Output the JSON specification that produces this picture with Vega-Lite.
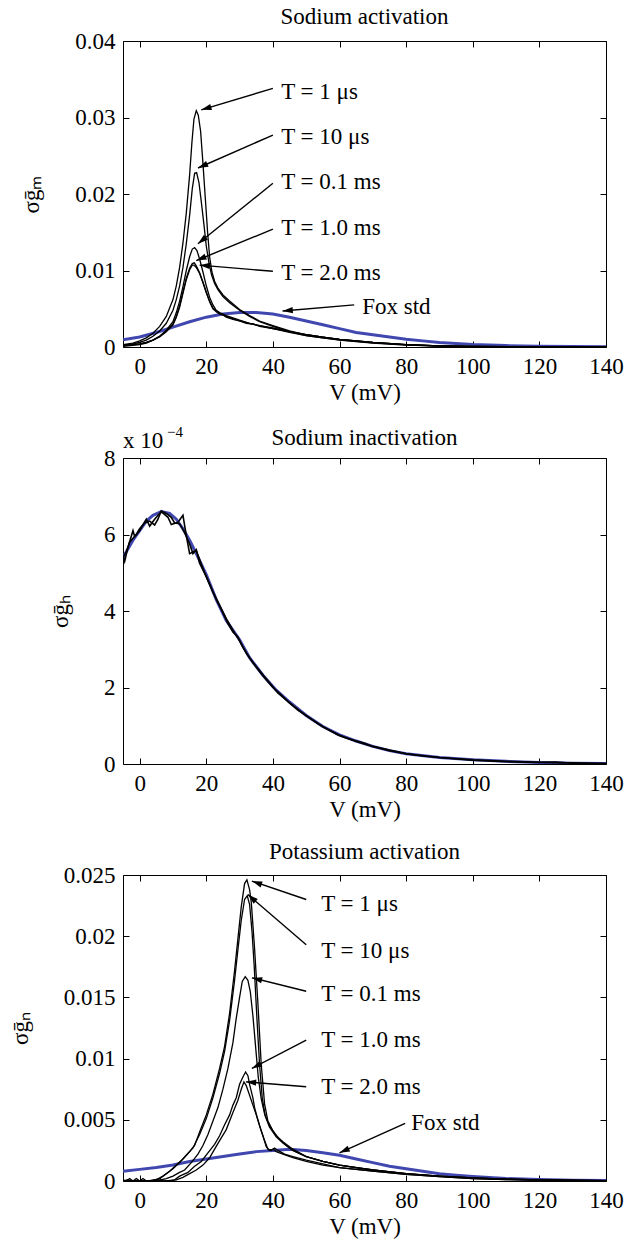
{
"$schema": "https://vega.github.io/schema/vega-lite/v6.json",
"background": "white",
"padding": {"left": 8, "top": 5, "right": 5, "bottom": 2},
"spacing": 111,
"bounds": "flush",
"config": {
 "font": "Liberation Serif",
 "view": {"stroke": "black", "strokeWidth": 1},
 "axis": {"labelFont": "Liberation Serif", "titleFont": "Liberation Serif", "labelFontSize": 23, "titleFontSize": 23, "titleFontWeight": "normal", "labelColor": "#000", "titleColor": "#000", "tickColor": "#000", "domain": false, "grid": false, "tickSize": -6, "tickWidth": 1, "labelFlush": false, "labelOverlap": false},
 "axisX": {"labelPadding": 14, "titlePadding": 3},
 "axisY": {"labelPadding": 14, "titlePadding": 31},
 "title": {"font": "Liberation Serif", "fontSize": 23, "fontWeight": "normal", "color": "#000", "offset": 1, "frame": "group", "baseline": "alphabetic"},
 "text": {"font": "Liberation Serif", "fontSize": 23, "color": "#000"}
},
"datasets": {
 "na": [
  {"curve":"1us","V":-5,"sigma":0.0003},{"curve":"1us","V":-2,"sigma":0.0005},{"curve":"1us","V":0,"sigma":0.0008},{"curve":"1us","V":2,"sigma":0.0012},{"curve":"1us","V":4,"sigma":0.0018},{"curve":"1us","V":6,"sigma":0.0027},{"curve":"1us","V":8,"sigma":0.004},{"curve":"1us","V":10,"sigma":0.0062},{"curve":"1us","V":11,"sigma":0.008},{"curve":"1us","V":12,"sigma":0.0104},{"curve":"1us","V":13,"sigma":0.0136},{"curve":"1us","V":14,"sigma":0.0175},{"curve":"1us","V":15,"sigma":0.0225},{"curve":"1us","V":15.7,"sigma":0.0268},{"curve":"1us","V":16.3,"sigma":0.0298},{"curve":"1us","V":17,"sigma":0.0309},{"curve":"1us","V":17.6,"sigma":0.0303},{"curve":"1us","V":18.3,"sigma":0.0282},{"curve":"1us","V":19,"sigma":0.024},{"curve":"1us","V":19.7,"sigma":0.0195},{"curve":"1us","V":20.4,"sigma":0.015},{"curve":"1us","V":21,"sigma":0.0118},{"curve":"1us","V":21.7,"sigma":0.0098},{"curve":"1us","V":22.5,"sigma":0.0086},{"curve":"1us","V":23.5,"sigma":0.0077},{"curve":"1us","V":25,"sigma":0.0068},{"curve":"1us","V":27,"sigma":0.006},{"curve":"1us","V":30,"sigma":0.0049},{"curve":"1us","V":33,"sigma":0.0041},{"curve":"1us","V":36,"sigma":0.0034},{"curve":"1us","V":40,"sigma":0.0028},{"curve":"1us","V":45,"sigma":0.0021},{"curve":"1us","V":50,"sigma":0.0016},{"curve":"1us","V":55,"sigma":0.0013},{"curve":"1us","V":60,"sigma":0.001},{"curve":"1us","V":70,"sigma":0.0006},{"curve":"1us","V":80,"sigma":0.0003},{"curve":"1us","V":90,"sigma":0.00014},{"curve":"1us","V":100,"sigma":0.00007},{"curve":"1us","V":120,"sigma":0.00002},{"curve":"1us","V":140,"sigma":0.00001},
  {"curve":"10us","V":-5,"sigma":0.0002},{"curve":"10us","V":-2,"sigma":0.0004},{"curve":"10us","V":0,"sigma":0.0006},{"curve":"10us","V":2,"sigma":0.0009},{"curve":"10us","V":4,"sigma":0.0014},{"curve":"10us","V":6,"sigma":0.0021},{"curve":"10us","V":8,"sigma":0.0031},{"curve":"10us","V":10,"sigma":0.0048},{"curve":"10us","V":11,"sigma":0.0062},{"curve":"10us","V":12,"sigma":0.008},{"curve":"10us","V":13,"sigma":0.0104},{"curve":"10us","V":14,"sigma":0.0135},{"curve":"10us","V":15,"sigma":0.0172},{"curve":"10us","V":15.8,"sigma":0.0207},{"curve":"10us","V":16.5,"sigma":0.0227},{"curve":"10us","V":17.1,"sigma":0.0228},{"curve":"10us","V":17.8,"sigma":0.0215},{"curve":"10us","V":18.5,"sigma":0.019},{"curve":"10us","V":19.3,"sigma":0.016},{"curve":"10us","V":20,"sigma":0.0132},{"curve":"10us","V":20.8,"sigma":0.011},{"curve":"10us","V":21.6,"sigma":0.0094},{"curve":"10us","V":22.5,"sigma":0.0083},{"curve":"10us","V":23.5,"sigma":0.0075},{"curve":"10us","V":25,"sigma":0.0066},{"curve":"10us","V":27,"sigma":0.0058},{"curve":"10us","V":30,"sigma":0.0048},{"curve":"10us","V":33,"sigma":0.004},{"curve":"10us","V":36,"sigma":0.0033},{"curve":"10us","V":40,"sigma":0.0027},{"curve":"10us","V":45,"sigma":0.002},{"curve":"10us","V":50,"sigma":0.0015},{"curve":"10us","V":55,"sigma":0.0012},{"curve":"10us","V":60,"sigma":0.00095},{"curve":"10us","V":70,"sigma":0.00055},{"curve":"10us","V":80,"sigma":0.00028},{"curve":"10us","V":90,"sigma":0.00013},{"curve":"10us","V":100,"sigma":0.00006},{"curve":"10us","V":120,"sigma":0.00002},{"curve":"10us","V":140,"sigma":0.00001},
  {"curve":"0.1ms","V":-5,"sigma":0.0001},{"curve":"0.1ms","V":-2,"sigma":0.0002},{"curve":"0.1ms","V":0,"sigma":0.0003},{"curve":"0.1ms","V":2,"sigma":0.0005},{"curve":"0.1ms","V":4,"sigma":0.0009},{"curve":"0.1ms","V":6,"sigma":0.0014},{"curve":"0.1ms","V":8,"sigma":0.0022},{"curve":"0.1ms","V":10,"sigma":0.0033},{"curve":"0.1ms","V":11,"sigma":0.0045},{"curve":"0.1ms","V":12,"sigma":0.006},{"curve":"0.1ms","V":13,"sigma":0.0079},{"curve":"0.1ms","V":14,"sigma":0.01},{"curve":"0.1ms","V":15,"sigma":0.0118},{"curve":"0.1ms","V":15.8,"sigma":0.0128},{"curve":"0.1ms","V":16.5,"sigma":0.013},{"curve":"0.1ms","V":17.2,"sigma":0.0126},{"curve":"0.1ms","V":18,"sigma":0.0115},{"curve":"0.1ms","V":19,"sigma":0.0098},{"curve":"0.1ms","V":20,"sigma":0.008},{"curve":"0.1ms","V":21,"sigma":0.0065},{"curve":"0.1ms","V":22,"sigma":0.0055},{"curve":"0.1ms","V":23,"sigma":0.0048},{"curve":"0.1ms","V":24,"sigma":0.0045},{"curve":"0.1ms","V":26,"sigma":0.0041},{"curve":"0.1ms","V":28,"sigma":0.0038},{"curve":"0.1ms","V":30,"sigma":0.0035},{"curve":"0.1ms","V":33,"sigma":0.0031},{"curve":"0.1ms","V":36,"sigma":0.0028},{"curve":"0.1ms","V":40,"sigma":0.0024},{"curve":"0.1ms","V":45,"sigma":0.0019},{"curve":"0.1ms","V":50,"sigma":0.0015},{"curve":"0.1ms","V":55,"sigma":0.0012},{"curve":"0.1ms","V":60,"sigma":0.0009},{"curve":"0.1ms","V":70,"sigma":0.0005},{"curve":"0.1ms","V":80,"sigma":0.00026},{"curve":"0.1ms","V":90,"sigma":0.00012},{"curve":"0.1ms","V":100,"sigma":0.00006},{"curve":"0.1ms","V":120,"sigma":0.00002},{"curve":"0.1ms","V":140,"sigma":0.00001},
  {"curve":"1ms","V":-5,"sigma":0.0002},{"curve":"1ms","V":-2,"sigma":0.0003},{"curve":"1ms","V":0,"sigma":0.0004},{"curve":"1ms","V":2,"sigma":0.0006},{"curve":"1ms","V":4,"sigma":0.0009},{"curve":"1ms","V":6,"sigma":0.0014},{"curve":"1ms","V":8,"sigma":0.0021},{"curve":"1ms","V":10,"sigma":0.003},{"curve":"1ms","V":11,"sigma":0.004},{"curve":"1ms","V":12,"sigma":0.0054},{"curve":"1ms","V":13,"sigma":0.0072},{"curve":"1ms","V":14,"sigma":0.009},{"curve":"1ms","V":15,"sigma":0.0103},{"curve":"1ms","V":15.8,"sigma":0.0109},{"curve":"1ms","V":16.4,"sigma":0.011},{"curve":"1ms","V":17,"sigma":0.0106},{"curve":"1ms","V":18,"sigma":0.0097},{"curve":"1ms","V":19,"sigma":0.0085},{"curve":"1ms","V":20,"sigma":0.0072},{"curve":"1ms","V":21,"sigma":0.006},{"curve":"1ms","V":22,"sigma":0.0051},{"curve":"1ms","V":23,"sigma":0.0047},{"curve":"1ms","V":24,"sigma":0.0044},{"curve":"1ms","V":26,"sigma":0.004},{"curve":"1ms","V":28,"sigma":0.0037},{"curve":"1ms","V":30,"sigma":0.0034},{"curve":"1ms","V":33,"sigma":0.0031},{"curve":"1ms","V":36,"sigma":0.0028},{"curve":"1ms","V":40,"sigma":0.0025},{"curve":"1ms","V":45,"sigma":0.002},{"curve":"1ms","V":50,"sigma":0.0016},{"curve":"1ms","V":55,"sigma":0.0013},{"curve":"1ms","V":60,"sigma":0.001},{"curve":"1ms","V":70,"sigma":0.0006},{"curve":"1ms","V":80,"sigma":0.0003},{"curve":"1ms","V":90,"sigma":0.00014},{"curve":"1ms","V":100,"sigma":0.00007},{"curve":"1ms","V":120,"sigma":0.00002},{"curve":"1ms","V":140,"sigma":0.00001},
  {"curve":"2ms","V":-5,"sigma":0.0002},{"curve":"2ms","V":-2,"sigma":0.0003},{"curve":"2ms","V":0,"sigma":0.0004},{"curve":"2ms","V":2,"sigma":0.0006},{"curve":"2ms","V":4,"sigma":0.0009},{"curve":"2ms","V":6,"sigma":0.0013},{"curve":"2ms","V":8,"sigma":0.002},{"curve":"2ms","V":10,"sigma":0.0029},{"curve":"2ms","V":11,"sigma":0.0039},{"curve":"2ms","V":12,"sigma":0.0052},{"curve":"2ms","V":13,"sigma":0.007},{"curve":"2ms","V":14,"sigma":0.0088},{"curve":"2ms","V":15,"sigma":0.0101},{"curve":"2ms","V":15.8,"sigma":0.0107},{"curve":"2ms","V":16.3,"sigma":0.0107},{"curve":"2ms","V":17,"sigma":0.0104},{"curve":"2ms","V":18,"sigma":0.0096},{"curve":"2ms","V":19,"sigma":0.0084},{"curve":"2ms","V":20,"sigma":0.0071},{"curve":"2ms","V":21,"sigma":0.0059},{"curve":"2ms","V":22,"sigma":0.005},{"curve":"2ms","V":23,"sigma":0.0046},{"curve":"2ms","V":24,"sigma":0.0043},{"curve":"2ms","V":25,"sigma":0.0042},{"curve":"2ms","V":26,"sigma":0.0039},{"curve":"2ms","V":28,"sigma":0.0036},{"curve":"2ms","V":30,"sigma":0.0034},{"curve":"2ms","V":32,"sigma":0.0031},{"curve":"2ms","V":34,"sigma":0.003},{"curve":"2ms","V":36,"sigma":0.0027},{"curve":"2ms","V":40,"sigma":0.0024},{"curve":"2ms","V":45,"sigma":0.002},{"curve":"2ms","V":50,"sigma":0.0016},{"curve":"2ms","V":55,"sigma":0.0013},{"curve":"2ms","V":60,"sigma":0.001},{"curve":"2ms","V":70,"sigma":0.0006},{"curve":"2ms","V":80,"sigma":0.0003},{"curve":"2ms","V":90,"sigma":0.00014},{"curve":"2ms","V":100,"sigma":0.00007},{"curve":"2ms","V":120,"sigma":0.00002},{"curve":"2ms","V":140,"sigma":0.00001},
  {"curve":"Fox std","V":-5,"sigma":0.00096},{"curve":"Fox std","V":0,"sigma":0.0013},{"curve":"Fox std","V":5,"sigma":0.0019},{"curve":"Fox std","V":10,"sigma":0.0026},{"curve":"Fox std","V":15,"sigma":0.0033},{"curve":"Fox std","V":20,"sigma":0.0039},{"curve":"Fox std","V":25,"sigma":0.0043},{"curve":"Fox std","V":30,"sigma":0.0045},{"curve":"Fox std","V":35,"sigma":0.0045},{"curve":"Fox std","V":40,"sigma":0.0043},{"curve":"Fox std","V":45,"sigma":0.0039},{"curve":"Fox std","V":50,"sigma":0.0034},{"curve":"Fox std","V":55,"sigma":0.0029},{"curve":"Fox std","V":60,"sigma":0.0024},{"curve":"Fox std","V":65,"sigma":0.0019},{"curve":"Fox std","V":70,"sigma":0.0016},{"curve":"Fox std","V":75,"sigma":0.0013},{"curve":"Fox std","V":80,"sigma":0.001},{"curve":"Fox std","V":85,"sigma":0.0008},{"curve":"Fox std","V":90,"sigma":0.0006},{"curve":"Fox std","V":100,"sigma":0.00033},{"curve":"Fox std","V":110,"sigma":0.00018},{"curve":"Fox std","V":120,"sigma":0.0001},{"curve":"Fox std","V":130,"sigma":0.00006},{"curve":"Fox std","V":140,"sigma":0.00004}
 ],
 "na_notes": [
  {"label":"T = 1 μs","tailV":40,"tailS":0.0338,"tipV":18.5,"tipS":0.031,"textV":42.5,"textS":0.0333},
  {"label":"T = 10 μs","tailV":40,"tailS":0.0277,"tipV":17.5,"tipS":0.0234,"textV":42.5,"textS":0.0275},
  {"label":"T = 0.1 ms","tailV":40,"tailS":0.0214,"tipV":17.5,"tipS":0.0135,"textV":42.5,"textS":0.0216},
  {"label":"T = 1.0 ms","tailV":40,"tailS":0.0154,"tipV":17,"tipS":0.0113,"textV":42.5,"textS":0.0155},
  {"label":"T = 2.0 ms","tailV":40,"tailS":0.0099,"tipV":18,"tipS":0.0107,"textV":42.5,"textS":0.0097},
  {"label":"Fox std","tailV":64.4,"tailS":0.0055,"tipV":42.9,"tipS":0.0047,"textV":66.8,"textS":0.0052}
 ],
 "nh": [
  {"curve":"Fox std","V":-5,"sigma":5.4},{"curve":"Fox std","V":-2,"sigma":5.85},{"curve":"Fox std","V":0,"sigma":6.1},{"curve":"Fox std","V":2,"sigma":6.35},{"curve":"Fox std","V":4,"sigma":6.5},{"curve":"Fox std","V":6.5,"sigma":6.6},{"curve":"Fox std","V":9,"sigma":6.55},{"curve":"Fox std","V":11,"sigma":6.4},{"curve":"Fox std","V":13,"sigma":6.15},{"curve":"Fox std","V":15,"sigma":5.85},{"curve":"Fox std","V":17,"sigma":5.5},{"curve":"Fox std","V":20,"sigma":4.95},{"curve":"Fox std","V":23,"sigma":4.3},{"curve":"Fox std","V":26,"sigma":3.75},{"curve":"Fox std","V":30,"sigma":3.25},{"curve":"Fox std","V":33,"sigma":2.78},{"curve":"Fox std","V":37,"sigma":2.32},{"curve":"Fox std","V":41,"sigma":1.93},{"curve":"Fox std","V":45,"sigma":1.62},{"curve":"Fox std","V":50,"sigma":1.27},{"curve":"Fox std","V":55,"sigma":0.98},{"curve":"Fox std","V":60,"sigma":0.76},{"curve":"Fox std","V":65,"sigma":0.6},{"curve":"Fox std","V":70,"sigma":0.46},{"curve":"Fox std","V":75,"sigma":0.35},{"curve":"Fox std","V":80,"sigma":0.27},{"curve":"Fox std","V":90,"sigma":0.17},{"curve":"Fox std","V":100,"sigma":0.11},{"curve":"Fox std","V":110,"sigma":0.07},{"curve":"Fox std","V":120,"sigma":0.04},{"curve":"Fox std","V":130,"sigma":0.02},{"curve":"Fox std","V":140,"sigma":0.01},
  {"curve":"1us","V":-5,"sigma":5.45},{"curve":"1us","V":-4.5,"sigma":5.3},{"curve":"1us","V":-3.5,"sigma":5.67},{"curve":"1us","V":-2,"sigma":6.1},{"curve":"1us","V":-1.5,"sigma":5.95},{"curve":"1us","V":0,"sigma":6.1},{"curve":"1us","V":2,"sigma":6.4},{"curve":"1us","V":3,"sigma":6.22},{"curve":"1us","V":4.5,"sigma":6.4},{"curve":"1us","V":6.5,"sigma":6.6},{"curve":"1us","V":8.5,"sigma":6.45},{"curve":"1us","V":9.5,"sigma":6.26},{"curve":"1us","V":11.5,"sigma":6.32},{"curve":"1us","V":13,"sigma":6.5},{"curve":"1us","V":14,"sigma":5.97},{"curve":"1us","V":15,"sigma":5.5},{"curve":"1us","V":17,"sigma":5.58},{"curve":"1us","V":19.5,"sigma":5.0},{"curve":"1us","V":21,"sigma":4.7},{"curve":"1us","V":23,"sigma":4.3},{"curve":"1us","V":25,"sigma":3.95},{"curve":"1us","V":26.5,"sigma":3.67},{"curve":"1us","V":28,"sigma":3.45},{"curve":"1us","V":29.5,"sigma":3.32},{"curve":"1us","V":31,"sigma":3.05},{"curve":"1us","V":33.5,"sigma":2.71},{"curve":"1us","V":35,"sigma":2.55},{"curve":"1us","V":37.5,"sigma":2.28},{"curve":"1us","V":40,"sigma":2.02},{"curve":"1us","V":41.5,"sigma":1.86},{"curve":"1us","V":43,"sigma":1.75},{"curve":"1us","V":47.5,"sigma":1.41},{"curve":"1us","V":50,"sigma":1.27},{"curve":"1us","V":53.5,"sigma":1.06},{"curve":"1us","V":55,"sigma":0.98},{"curve":"1us","V":59.5,"sigma":0.76},{"curve":"1us","V":62,"sigma":0.68},{"curve":"1us","V":67.5,"sigma":0.54},{"curve":"1us","V":70,"sigma":0.46},{"curve":"1us","V":75,"sigma":0.35},{"curve":"1us","V":80,"sigma":0.27},{"curve":"1us","V":85,"sigma":0.21},{"curve":"1us","V":90,"sigma":0.17},{"curve":"1us","V":100,"sigma":0.11},{"curve":"1us","V":110,"sigma":0.07},{"curve":"1us","V":120,"sigma":0.045},{"curve":"1us","V":125,"sigma":0.05},{"curve":"1us","V":130,"sigma":0.02},{"curve":"1us","V":135,"sigma":0.015},{"curve":"1us","V":140,"sigma":0.01},
  {"curve":"2ms","V":-5,"sigma":5.4},{"curve":"2ms","V":-4,"sigma":5.55},{"curve":"2ms","V":-3,"sigma":5.8},{"curve":"2ms","V":-2,"sigma":5.9},{"curve":"2ms","V":-1,"sigma":6.0},{"curve":"2ms","V":0,"sigma":6.15},{"curve":"2ms","V":1.5,"sigma":6.3},{"curve":"2ms","V":3,"sigma":6.35},{"curve":"2ms","V":4.5,"sigma":6.25},{"curve":"2ms","V":5.5,"sigma":6.4},{"curve":"2ms","V":6.5,"sigma":6.62},{"curve":"2ms","V":8,"sigma":6.55},{"curve":"2ms","V":9.5,"sigma":6.45},{"curve":"2ms","V":10.5,"sigma":6.3},{"curve":"2ms","V":12,"sigma":6.28},{"curve":"2ms","V":13.5,"sigma":6.05},{"curve":"2ms","V":15,"sigma":5.75},{"curve":"2ms","V":16,"sigma":5.5},{"curve":"2ms","V":17,"sigma":5.6},{"curve":"2ms","V":18,"sigma":5.25},{"curve":"2ms","V":20,"sigma":4.9},{"curve":"2ms","V":22,"sigma":4.5},{"curve":"2ms","V":24,"sigma":4.15},{"curve":"2ms","V":26,"sigma":3.8},{"curve":"2ms","V":28,"sigma":3.5},{"curve":"2ms","V":30,"sigma":3.22},{"curve":"2ms","V":32,"sigma":2.9},{"curve":"2ms","V":34,"sigma":2.65},{"curve":"2ms","V":36,"sigma":2.42},{"curve":"2ms","V":38,"sigma":2.2},{"curve":"2ms","V":40,"sigma":2.0},{"curve":"2ms","V":42,"sigma":1.85},{"curve":"2ms","V":45,"sigma":1.6},{"curve":"2ms","V":50,"sigma":1.26},{"curve":"2ms","V":55,"sigma":0.97},{"curve":"2ms","V":60,"sigma":0.75},{"curve":"2ms","V":65,"sigma":0.59},{"curve":"2ms","V":70,"sigma":0.46},{"curve":"2ms","V":80,"sigma":0.27},{"curve":"2ms","V":90,"sigma":0.17},{"curve":"2ms","V":100,"sigma":0.1},{"curve":"2ms","V":110,"sigma":0.06},{"curve":"2ms","V":120,"sigma":0.04},{"curve":"2ms","V":130,"sigma":0.03},{"curve":"2ms","V":140,"sigma":0.01}
 ],
 "nh_notes": [
  {"label":"x 10","V":-5,"sigma":8}
 ],
 "k": [
  {"curve":"1us","V":-5,"sigma":0},{"curve":"1us","V":2,"sigma":0},{"curve":"1us","V":5,"sigma":0.0001},{"curve":"1us","V":7,"sigma":0.0004},{"curve":"1us","V":9,"sigma":0.0008},{"curve":"1us","V":11,"sigma":0.0013},{"curve":"1us","V":13,"sigma":0.0018},{"curve":"1us","V":15,"sigma":0.0024},{"curve":"1us","V":16.5,"sigma":0.0029},{"curve":"1us","V":18,"sigma":0.004},{"curve":"1us","V":20,"sigma":0.0054},{"curve":"1us","V":22,"sigma":0.0071},{"curve":"1us","V":24,"sigma":0.0092},{"curve":"1us","V":25.5,"sigma":0.011},{"curve":"1us","V":27,"sigma":0.0137},{"curve":"1us","V":28.5,"sigma":0.0172},{"curve":"1us","V":29.5,"sigma":0.0198},{"curve":"1us","V":30.5,"sigma":0.0224},{"curve":"1us","V":31.5,"sigma":0.0243},{"curve":"1us","V":32.2,"sigma":0.0246},{"curve":"1us","V":33,"sigma":0.0238},{"curve":"1us","V":33.5,"sigma":0.0228},{"curve":"1us","V":34.5,"sigma":0.019},{"curve":"1us","V":35.5,"sigma":0.0145},{"curve":"1us","V":36.5,"sigma":0.0095},{"curve":"1us","V":37.5,"sigma":0.0063},{"curve":"1us","V":38.5,"sigma":0.0049},{"curve":"1us","V":40,"sigma":0.0041},{"curve":"1us","V":42,"sigma":0.0034},{"curve":"1us","V":44,"sigma":0.0029},{"curve":"1us","V":46,"sigma":0.0025},{"curve":"1us","V":50,"sigma":0.002},{"curve":"1us","V":55,"sigma":0.0016},{"curve":"1us","V":60,"sigma":0.0013},{"curve":"1us","V":65,"sigma":0.0011},{"curve":"1us","V":70,"sigma":0.0009},{"curve":"1us","V":80,"sigma":0.0006},{"curve":"1us","V":90,"sigma":0.0004},{"curve":"1us","V":100,"sigma":0.00025},{"curve":"1us","V":110,"sigma":0.00015},{"curve":"1us","V":120,"sigma":0.0001},{"curve":"1us","V":130,"sigma":0.00005},{"curve":"1us","V":140,"sigma":0.00003},
  {"curve":"10us","V":-5,"sigma":0},{"curve":"10us","V":3,"sigma":0},{"curve":"10us","V":6,"sigma":0.0002},{"curve":"10us","V":8,"sigma":0.0006},{"curve":"10us","V":10,"sigma":0.001},{"curve":"10us","V":12,"sigma":0.0015},{"curve":"10us","V":14,"sigma":0.0021},{"curve":"10us","V":16,"sigma":0.0027},{"curve":"10us","V":18,"sigma":0.0038},{"curve":"10us","V":20,"sigma":0.0051},{"curve":"10us","V":22,"sigma":0.0068},{"curve":"10us","V":24,"sigma":0.0088},{"curve":"10us","V":25.5,"sigma":0.0106},{"curve":"10us","V":27,"sigma":0.0131},{"curve":"10us","V":28.5,"sigma":0.0164},{"curve":"10us","V":29.5,"sigma":0.0189},{"curve":"10us","V":30.5,"sigma":0.0213},{"curve":"10us","V":31.5,"sigma":0.023},{"curve":"10us","V":32.3,"sigma":0.0233},{"curve":"10us","V":33,"sigma":0.0226},{"curve":"10us","V":33.7,"sigma":0.0205},{"curve":"10us","V":34.4,"sigma":0.0175},{"curve":"10us","V":35.2,"sigma":0.0133},{"curve":"10us","V":36,"sigma":0.0095},{"curve":"10us","V":36.8,"sigma":0.0068},{"curve":"10us","V":37.7,"sigma":0.0053},{"curve":"10us","V":39,"sigma":0.0044},{"curve":"10us","V":41,"sigma":0.0036},{"curve":"10us","V":43,"sigma":0.0031},{"curve":"10us","V":46,"sigma":0.0025},{"curve":"10us","V":50,"sigma":0.002},{"curve":"10us","V":55,"sigma":0.0016},{"curve":"10us","V":60,"sigma":0.0013},{"curve":"10us","V":65,"sigma":0.0011},{"curve":"10us","V":70,"sigma":0.0009},{"curve":"10us","V":80,"sigma":0.0006},{"curve":"10us","V":90,"sigma":0.0004},{"curve":"10us","V":100,"sigma":0.00025},{"curve":"10us","V":110,"sigma":0.00015},{"curve":"10us","V":120,"sigma":0.0001},{"curve":"10us","V":130,"sigma":0.00005},{"curve":"10us","V":140,"sigma":0.00003},
  {"curve":"0.1ms","V":-5,"sigma":0},{"curve":"0.1ms","V":5,"sigma":0},{"curve":"0.1ms","V":8,"sigma":0.0002},{"curve":"0.1ms","V":10,"sigma":0.0004},{"curve":"0.1ms","V":12,"sigma":0.0007},{"curve":"0.1ms","V":13.5,"sigma":0.0009},{"curve":"0.1ms","V":15.5,"sigma":0.0015},{"curve":"0.1ms","V":17.5,"sigma":0.0022},{"curve":"0.1ms","V":19,"sigma":0.0029},{"curve":"0.1ms","V":20.5,"sigma":0.0038},{"curve":"0.1ms","V":22,"sigma":0.0049},{"curve":"0.1ms","V":23.5,"sigma":0.006},{"curve":"0.1ms","V":25,"sigma":0.0075},{"curve":"0.1ms","V":26.5,"sigma":0.0092},{"curve":"0.1ms","V":28,"sigma":0.0113},{"curve":"0.1ms","V":29,"sigma":0.0133},{"curve":"0.1ms","V":30,"sigma":0.015},{"curve":"0.1ms","V":30.8,"sigma":0.0163},{"curve":"0.1ms","V":31.7,"sigma":0.0167},{"curve":"0.1ms","V":32.5,"sigma":0.0164},{"curve":"0.1ms","V":33.2,"sigma":0.0155},{"curve":"0.1ms","V":34,"sigma":0.0135},{"curve":"0.1ms","V":34.8,"sigma":0.011},{"curve":"0.1ms","V":35.6,"sigma":0.0085},{"curve":"0.1ms","V":36.5,"sigma":0.0067},{"curve":"0.1ms","V":37.5,"sigma":0.0055},{"curve":"0.1ms","V":39,"sigma":0.0045},{"curve":"0.1ms","V":41,"sigma":0.0037},{"curve":"0.1ms","V":43,"sigma":0.0032},{"curve":"0.1ms","V":46,"sigma":0.0026},{"curve":"0.1ms","V":50,"sigma":0.002},{"curve":"0.1ms","V":55,"sigma":0.0016},{"curve":"0.1ms","V":60,"sigma":0.0013},{"curve":"0.1ms","V":70,"sigma":0.0009},{"curve":"0.1ms","V":80,"sigma":0.0006},{"curve":"0.1ms","V":90,"sigma":0.0004},{"curve":"0.1ms","V":100,"sigma":0.00025},{"curve":"0.1ms","V":110,"sigma":0.00015},{"curve":"0.1ms","V":120,"sigma":0.0001},{"curve":"0.1ms","V":140,"sigma":0.00003},
  {"curve":"1ms","V":-5,"sigma":0.0001},{"curve":"1ms","V":-4,"sigma":0},{"curve":"1ms","V":-3,"sigma":0.0002},{"curve":"1ms","V":-2,"sigma":0},{"curve":"1ms","V":-1,"sigma":0.0002},{"curve":"1ms","V":0,"sigma":0},{"curve":"1ms","V":1,"sigma":0.0002},{"curve":"1ms","V":2,"sigma":0},{"curve":"1ms","V":8,"sigma":0},{"curve":"1ms","V":10.5,"sigma":0.0001},{"curve":"1ms","V":12,"sigma":0.0004},{"curve":"1ms","V":14.5,"sigma":0.0007},{"curve":"1ms","V":16.5,"sigma":0.0012},{"curve":"1ms","V":18.5,"sigma":0.0016},{"curve":"1ms","V":20.5,"sigma":0.0023},{"curve":"1ms","V":22.5,"sigma":0.003},{"curve":"1ms","V":24,"sigma":0.0037},{"curve":"1ms","V":25.5,"sigma":0.0046},{"curve":"1ms","V":27,"sigma":0.0054},{"curve":"1ms","V":28,"sigma":0.0062},{"curve":"1ms","V":29,"sigma":0.0068},{"curve":"1ms","V":30,"sigma":0.0079},{"curve":"1ms","V":31,"sigma":0.0085},{"curve":"1ms","V":31.8,"sigma":0.0089},{"curve":"1ms","V":32.5,"sigma":0.0086},{"curve":"1ms","V":33,"sigma":0.0079},{"curve":"1ms","V":34,"sigma":0.0068},{"curve":"1ms","V":34.5,"sigma":0.006},{"curve":"1ms","V":35.5,"sigma":0.005},{"curve":"1ms","V":36.5,"sigma":0.0041},{"curve":"1ms","V":37.5,"sigma":0.0033},{"curve":"1ms","V":38.5,"sigma":0.0026},{"curve":"1ms","V":39.5,"sigma":0.0025},{"curve":"1ms","V":40.5,"sigma":0.0027},{"curve":"1ms","V":41.5,"sigma":0.0025},{"curve":"1ms","V":43.5,"sigma":0.0022},{"curve":"1ms","V":46,"sigma":0.002},{"curve":"1ms","V":50,"sigma":0.0017},{"curve":"1ms","V":55,"sigma":0.0014},{"curve":"1ms","V":60,"sigma":0.0011},{"curve":"1ms","V":70,"sigma":0.0008},{"curve":"1ms","V":80,"sigma":0.00055},{"curve":"1ms","V":90,"sigma":0.00035},{"curve":"1ms","V":100,"sigma":0.0002},{"curve":"1ms","V":110,"sigma":0.00012},{"curve":"1ms","V":120,"sigma":0.00007},{"curve":"1ms","V":130,"sigma":0.00004},{"curve":"1ms","V":140,"sigma":0.00002},
  {"curve":"2ms","V":-5,"sigma":0},{"curve":"2ms","V":-3.5,"sigma":0.0001},{"curve":"2ms","V":-2.5,"sigma":0},{"curve":"2ms","V":4,"sigma":0},{"curve":"2ms","V":6,"sigma":0.0002},{"curve":"2ms","V":7,"sigma":0},{"curve":"2ms","V":9,"sigma":0},{"curve":"2ms","V":11,"sigma":0.0001},{"curve":"2ms","V":13,"sigma":0.0003},{"curve":"2ms","V":15,"sigma":0.0006},{"curve":"2ms","V":17,"sigma":0.0009},{"curve":"2ms","V":19,"sigma":0.0013},{"curve":"2ms","V":21,"sigma":0.0019},{"curve":"2ms","V":22.5,"sigma":0.0026},{"curve":"2ms","V":24,"sigma":0.0033},{"curve":"2ms","V":26,"sigma":0.0042},{"curve":"2ms","V":28,"sigma":0.0056},{"curve":"2ms","V":29.5,"sigma":0.0066},{"curve":"2ms","V":30.5,"sigma":0.0075},{"curve":"2ms","V":31.3,"sigma":0.0081},{"curve":"2ms","V":32,"sigma":0.0078},{"curve":"2ms","V":33,"sigma":0.007},{"curve":"2ms","V":34,"sigma":0.0062},{"curve":"2ms","V":35,"sigma":0.0054},{"curve":"2ms","V":36,"sigma":0.0045},{"curve":"2ms","V":37,"sigma":0.0037},{"curve":"2ms","V":38,"sigma":0.0028},{"curve":"2ms","V":39,"sigma":0.0025},{"curve":"2ms","V":40,"sigma":0.0026},{"curve":"2ms","V":41,"sigma":0.0024},{"curve":"2ms","V":43,"sigma":0.0022},{"curve":"2ms","V":46,"sigma":0.0019},{"curve":"2ms","V":50,"sigma":0.0016},{"curve":"2ms","V":55,"sigma":0.0013},{"curve":"2ms","V":60,"sigma":0.0011},{"curve":"2ms","V":70,"sigma":0.0008},{"curve":"2ms","V":80,"sigma":0.00055},{"curve":"2ms","V":90,"sigma":0.00035},{"curve":"2ms","V":100,"sigma":0.0002},{"curve":"2ms","V":110,"sigma":0.00012},{"curve":"2ms","V":120,"sigma":0.00007},{"curve":"2ms","V":140,"sigma":0.00002},
  {"curve":"Fox std","V":-5,"sigma":0.0008},{"curve":"Fox std","V":0,"sigma":0.00095},{"curve":"Fox std","V":5,"sigma":0.0011},{"curve":"Fox std","V":10,"sigma":0.0013},{"curve":"Fox std","V":15,"sigma":0.0016},{"curve":"Fox std","V":20,"sigma":0.0018},{"curve":"Fox std","V":25,"sigma":0.002},{"curve":"Fox std","V":30,"sigma":0.0022},{"curve":"Fox std","V":35,"sigma":0.0024},{"curve":"Fox std","V":40,"sigma":0.0025},{"curve":"Fox std","V":45,"sigma":0.0026},{"curve":"Fox std","V":50,"sigma":0.0025},{"curve":"Fox std","V":55,"sigma":0.0023},{"curve":"Fox std","V":60,"sigma":0.0021},{"curve":"Fox std","V":65,"sigma":0.0018},{"curve":"Fox std","V":70,"sigma":0.0015},{"curve":"Fox std","V":75,"sigma":0.0012},{"curve":"Fox std","V":80,"sigma":0.001},{"curve":"Fox std","V":85,"sigma":0.0008},{"curve":"Fox std","V":90,"sigma":0.0006},{"curve":"Fox std","V":95,"sigma":0.00047},{"curve":"Fox std","V":100,"sigma":0.00036},{"curve":"Fox std","V":110,"sigma":0.0002},{"curve":"Fox std","V":120,"sigma":0.00012},{"curve":"Fox std","V":130,"sigma":0.00007},{"curve":"Fox std","V":140,"sigma":0.00005}
 ],
 "k_notes": [
  {"label":"T = 1 μs","tailV":50,"tailS":0.023,"tipV":33.7,"tipS":0.0245,"textV":54.5,"textS":0.0226},
  {"label":"T = 10 μs","tailV":50,"tailS":0.0193,"tipV":32.5,"tipS":0.0234,"textV":54.5,"textS":0.0188},
  {"label":"T = 0.1 ms","tailV":50,"tailS":0.0155,"tipV":33.7,"tipS":0.0166,"textV":54.5,"textS":0.0153},
  {"label":"T = 1.0 ms","tailV":50,"tailS":0.0115,"tipV":33.7,"tipS":0.0092,"textV":54.5,"textS":0.0115},
  {"label":"T = 2.0 ms","tailV":50,"tailS":0.0077,"tipV":31.9,"tipS":0.0081,"textV":54.5,"textS":0.0077},
  {"label":"Fox std","tailV":79.7,"tailS":0.0047,"tipV":60,"tipS":0.0023,"textV":81.5,"textS":0.0047}
 ]
},
"vconcat": [
  {"width": 483, "height": 306,
   "title": {"text": "Sodium activation", "offset": 1},
   "resolve": {"axis": {"x": "independent", "y": "independent"}},
   "layer": [
    {"data": {"name": "na"}, "transform": [{"filter": "datum.curve === 'Fox std'"}],
     "mark": {"type": "line", "color": "#4048B0", "strokeWidth": 3, "clip": true},
     "encoding": {
      "x": {"field": "V", "type": "quantitative", "scale": {"domain": [-5, 140], "nice": false, "zero": false}, "axis": {"orient": "bottom", "title": "V (mV)", "values": [0,20,40,60,80,100,120,140]}},
      "y": {"field": "sigma", "type": "quantitative", "scale": {"domain": [0, 0.04], "nice": false}, "axis": {"orient": "left", "title": "σḡₘ", "values": [0,0.01,0.02,0.03,0.04], "format": ".2~f"}}}},
    {"data": {"name": "na"}, "transform": [{"filter": "datum.curve !== 'Fox std'"}],
     "mark": {"type": "line", "color": "black", "strokeWidth": 1.3, "clip": true},
     "encoding": {"x": {"field": "V", "type": "quantitative", "axis": null}, "y": {"field": "sigma", "type": "quantitative", "axis": null}, "detail": {"field": "curve"}}},
    {"data": {"name": "na_notes"}, "mark": {"type": "rule", "color": "black", "strokeWidth": 1.4},
     "encoding": {"x": {"field": "tailV", "type": "quantitative", "axis": null}, "y": {"field": "tailS", "type": "quantitative", "axis": null}, "x2": {"field": "tipV"}, "y2": {"field": "tipS"}}},
    {"data": {"name": "na_notes"}, "transform": [{"calculate": "atan2((datum.tipV - datum.tailV) * 3.331, (datum.tipS - datum.tailS) * 7650) * 180 / PI", "as": "heading"}],
     "mark": {"type": "point", "shape": "M0,0L-0.55,1.8L0.55,1.8Z", "filled": true, "color": "black", "opacity": 1, "size": 130},
     "encoding": {"x": {"field": "tipV", "type": "quantitative", "axis": null}, "y": {"field": "tipS", "type": "quantitative", "axis": null}, "angle": {"field": "heading", "type": "quantitative", "scale": null}}},
    {"data": {"name": "na_notes"}, "mark": {"type": "text", "align": "left", "baseline": "middle"},
     "encoding": {"x": {"field": "textV", "type": "quantitative", "axis": null}, "y": {"field": "textS", "type": "quantitative", "axis": null}, "text": {"field": "label"}}},
    {"data": {"name": "na"}, "mark": {"type": "point", "opacity": 0},
     "encoding": {
      "x": {"field": "V", "type": "quantitative", "axis": {"orient": "top", "labels": false, "title": null, "values": [0,20,40,60,80,100,120,140]}},
      "y": {"field": "sigma", "type": "quantitative", "axis": {"orient": "right", "labels": false, "title": null, "values": [0,0.01,0.02,0.03,0.04]}}}}
   ]},
  {"width": 483, "height": 306,
   "title": {"text": "Sodium inactivation", "offset": -25},
   "resolve": {"axis": {"x": "independent", "y": "independent"}},
   "layer": [
    {"data": {"name": "nh"}, "transform": [{"filter": "datum.curve === 'Fox std'"}],
     "mark": {"type": "line", "color": "#4048B0", "strokeWidth": 3, "clip": true},
     "encoding": {
      "x": {"field": "V", "type": "quantitative", "scale": {"domain": [-5, 140], "nice": false, "zero": false}, "axis": {"orient": "bottom", "title": "V (mV)", "values": [0,20,40,60,80,100,120,140]}},
      "y": {"field": "sigma", "type": "quantitative", "scale": {"domain": [0, 8], "nice": false}, "axis": {"orient": "left", "title": "σḡₕ", "values": [0,2,4,6,8]}}}},
    {"data": {"name": "nh"}, "transform": [{"filter": "datum.curve !== 'Fox std'"}],
     "mark": {"type": "line", "color": "black", "strokeWidth": 1.6, "clip": true},
     "encoding": {"x": {"field": "V", "type": "quantitative", "axis": null}, "y": {"field": "sigma", "type": "quantitative", "axis": null}, "detail": {"field": "curve"}}},
    {"data": {"name": "nh_notes"}, "mark": {"type": "text", "align": "left", "baseline": "alphabetic", "dy": -10},
     "encoding": {"x": {"field": "V", "type": "quantitative", "axis": null}, "y": {"field": "sigma", "type": "quantitative", "axis": null}, "text": {"field": "label"}}},
    {"data": {"name": "nh_notes"}, "mark": {"type": "text", "align": "left", "baseline": "alphabetic", "dy": -21, "dx": 44, "fontSize": 15},
     "encoding": {"x": {"field": "V", "type": "quantitative", "axis": null}, "y": {"field": "sigma", "type": "quantitative", "axis": null}, "text": {"value": "−4"}}},
    {"data": {"name": "nh"}, "mark": {"type": "point", "opacity": 0},
     "encoding": {
      "x": {"field": "V", "type": "quantitative", "axis": {"orient": "top", "labels": false, "title": null, "values": [0,20,40,60,80,100,120,140]}},
      "y": {"field": "sigma", "type": "quantitative", "axis": {"orient": "right", "labels": false, "title": null, "values": [0,2,4,6,8]}}}}
   ]},
 {"width": 483, "height": 306,
  "title": {"text": "Potassium activation", "offset": 0},
  "resolve": {"axis": {"x": "independent", "y": "independent"}},
  "layer": [
   {"data": {"name": "k"}, "transform": [{"filter": "datum.curve === 'Fox std'"}],
    "mark": {"type": "line", "color": "#4048B0", "strokeWidth": 3, "clip": true},
    "encoding": {
     "x": {"field": "V", "type": "quantitative", "scale": {"domain": [-5, 140], "nice": false, "zero": false}, "axis": {"orient": "bottom", "title": "V (mV)", "values": [0,20,40,60,80,100,120,140]}},
     "y": {"field": "sigma", "type": "quantitative", "scale": {"domain": [0, 0.025], "nice": false}, "axis": {"orient": "left", "title": "σḡₙ", "values": [0,0.005,0.01,0.015,0.02,0.025], "format": ".3~f"}}}},
   {"data": {"name": "k"}, "transform": [{"filter": "datum.curve !== 'Fox std'"}],
    "mark": {"type": "line", "color": "black", "strokeWidth": 1.3, "clip": true},
    "encoding": {"x": {"field": "V", "type": "quantitative", "axis": null}, "y": {"field": "sigma", "type": "quantitative", "axis": null}, "detail": {"field": "curve"}}},
   {"data": {"name": "k_notes"}, "mark": {"type": "rule", "color": "black", "strokeWidth": 1.4},
    "encoding": {"x": {"field": "tailV", "type": "quantitative", "axis": null}, "y": {"field": "tailS", "type": "quantitative", "axis": null}, "x2": {"field": "tipV"}, "y2": {"field": "tipS"}}},
   {"data": {"name": "k_notes"}, "transform": [{"calculate": "atan2((datum.tipV - datum.tailV) * 3.331, (datum.tipS - datum.tailS) * 12240) * 180 / PI", "as": "heading"}],
    "mark": {"type": "point", "shape": "M0,0L-0.55,1.8L0.55,1.8Z", "filled": true, "color": "black", "opacity": 1, "size": 130},
    "encoding": {"x": {"field": "tipV", "type": "quantitative", "axis": null}, "y": {"field": "tipS", "type": "quantitative", "axis": null}, "angle": {"field": "heading", "type": "quantitative", "scale": null}}},
   {"data": {"name": "k_notes"}, "mark": {"type": "text", "align": "left", "baseline": "middle"},
    "encoding": {"x": {"field": "textV", "type": "quantitative", "axis": null}, "y": {"field": "textS", "type": "quantitative", "axis": null}, "text": {"field": "label"}}},
   {"data": {"name": "k"}, "mark": {"type": "point", "opacity": 0},
    "encoding": {
     "x": {"field": "V", "type": "quantitative", "axis": {"orient": "top", "labels": false, "title": null, "values": [0,20,40,60,80,100,120,140]}},
     "y": {"field": "sigma", "type": "quantitative", "axis": {"orient": "right", "labels": false, "title": null, "values": [0,0.005,0.01,0.015,0.02,0.025]}}}}
  ]}
]
}
